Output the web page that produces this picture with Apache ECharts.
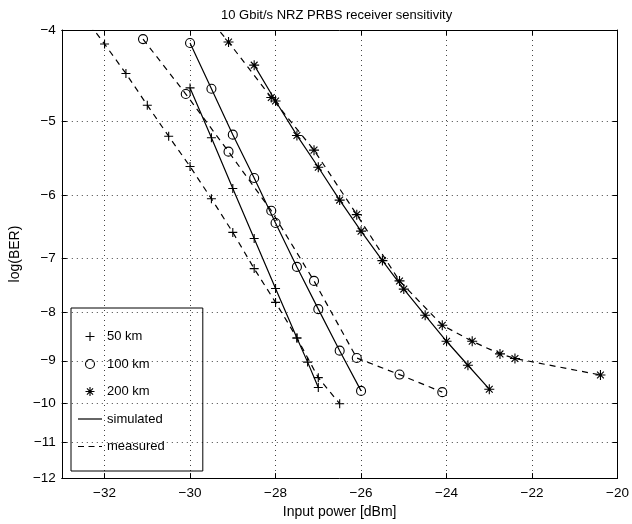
<!DOCTYPE html>
<html>
<head>
<meta charset="utf-8">
<script src="https://cdn.jsdelivr.net/npm/echarts@6/dist/echarts.min.js"></script>
<style>html,body{margin:0;padding:0;background:#fff}#c{width:632px;height:524px}</style>
</head>
<body>
<div id="c"></div>
<script>
// ---- data (input power in dBm, log10(BER)) ----
var sim50P  = [-30, -29.5, -29, -28.5, -28, -27.5, -27.25, -27];
var sim50L  = [-4.61, -5.21, -5.90, -6.67, -7.54, -8.51, -9.03, -9.61];
var meas50P = [-32.5, -32, -31.5, -31, -30.5, -30, -29.5, -29, -28.5, -28, -27.5, -27, -26.5];
var meas50L = [-3.86, -4.14, -4.45, -4.81, -5.19, -5.59, -6.05, -6.57, -7.18, -7.80, -8.51, -9.38, -10.0];

var sim100P  = [-30, -29.5, -29, -28.5, -28, -27.5, -27, -26.5, -26];
var sim100L  = [-4.13, -4.62, -5.17, -5.75, -6.42, -7.15, -7.93, -8.78, -9.69];
var meas100P = [-31.1, -30.1, -29.1, -28.1, -27.1, -26.1, -25.1, -24.1];
var meas100L = [-4.09, -4.68, -5.39, -6.23, -7.40, -8.94, -9.31, -9.72];

var sim200P  = [-28.5, -28, -27.5, -27, -26.5, -26, -25.5, -25, -24.5, -24, -23.5, -23];
var sim200L  = [-4.36, -4.76, -5.18, -5.60, -6.07, -6.55, -7.04, -7.55, -8.05, -8.58, -9.10, -9.65];
var meas200P = [-30.1, -29.1, -28.1, -27.1, -26.1, -25.1, -24.1, -23.4, -22.75, -22.4, -20.4];
var meas200L = [-3.62, -4.12, -4.72, -5.37, -6.29, -7.40, -8.25, -8.58, -8.85, -8.95, -9.32];

var xTicks = [-32, -30, -28, -26, -24, -22, -20];
var yTicks = [-4, -5, -6, -7, -8, -9, -10, -11, -12];
var xRange = [-33, -20];

var titleText = '10 Gbit/s NRZ PRBS receiver sensitivity';
var xName = 'Input power [dBm]';
var yName = 'log(BER)';
var legendNames = ['50 km', '100 km', '200 km', 'simulated', 'measured'];

// ---- scale helpers: y axis is logarithmic in -log(BER) ----
function ty(L) { return -Math.log10(-L); }
function pairs(P, L) { return P.map(function (p, i) { return [p, ty(L[i])]; }); }
function minus(n) { return n < 0 ? '\u2212' + Math.abs(n) : String(n); }

var FONT = 'Liberation Sans, Arial, Helvetica, sans-serif';
var plusSym = 'path://M5,0L5,10M0,5L10,5';
var starSym = 'path://M5,0L5,10M0,5L10,5M1.6,1.6L8.4,8.4M8.4,1.6L1.6,8.4';
var solidIcon = 'path://M0,0H24V1.2H0Z';
var dashIcon = 'path://M0,0H6V1.2H0Z M10.5,0H16.5V1.2H10.5Z M21,0H24V1.2H21Z';
var mk = { color: 'transparent', borderColor: '#000', borderWidth: 1.1 };
var fillBlack = { color: '#000', borderWidth: 0 };

function ser(name, P, L, sym, size, dashed) {
  return {
    name: name, type: 'line', data: pairs(P, L),
    symbol: sym, symbolSize: size, showSymbol: true, clip: true,
    itemStyle: mk,
    lineStyle: { color: '#000', width: 1.2, type: dashed ? [6, 5] : 'solid' },
    emphasis: { disabled: true }, animation: false, z: 3
  };
}

var yCustom = yTicks.map(ty);
var yMin = ty(yTicks[yTicks.length - 1]);
var yMax = ty(yTicks[0]);

var axisCommonX = {
  type: 'value', min: xRange[0], max: xRange[1],
  axisLine: { show: true, lineStyle: { color: '#000', width: 1 } },
  axisTick: { show: true, inside: true, length: 5, customValues: xTicks, lineStyle: { color: '#000' } }
};
var axisCommonY = {
  type: 'value', min: yMin, max: yMax,
  axisLine: { show: true, lineStyle: { color: '#000', width: 1 } },
  axisTick: { show: true, inside: true, length: 5, customValues: yCustom, lineStyle: { color: '#000' } }
};

var option = {
  backgroundColor: '#fff',
  animation: false,
  title: {
    text: titleText, left: 216, top: 4,
    textStyle: { fontFamily: FONT, fontSize: 13, fontWeight: 'normal', color: '#000' }
  },
  grid: { left: 53, right: 10, top: 30, bottom: 43, containLabel: false },
  legend: {
    orient: 'vertical', left: 71, top: 308,
    padding: [22, 38, 18, 7], itemGap: 14.5, itemWidth: 24, itemHeight: 9,
    borderColor: '#000', borderWidth: 1, backgroundColor: 'transparent',
    selectedMode: false,
    textStyle: { fontFamily: FONT, fontSize: 13, color: '#000' },
    data: [
      { name: legendNames[0], icon: plusSym, itemStyle: mk },
      { name: legendNames[1], icon: 'circle', itemStyle: mk },
      { name: legendNames[2], icon: starSym, itemStyle: mk },
      { name: legendNames[3], icon: solidIcon, itemStyle: fillBlack },
      { name: legendNames[4], icon: dashIcon, itemStyle: fillBlack }
    ]
  },
  xAxis: [
    Object.assign({}, axisCommonX, {
      position: 'bottom',
      name: xName, nameLocation: 'middle', nameGap: 24,
      nameTextStyle: { fontFamily: FONT, fontSize: 14, color: '#000' },
      axisLabel: { show: true, customValues: xTicks, margin: 8, fontFamily: FONT, fontSize: 13.5, color: '#000',
        formatter: function (v) { return minus(v); } },
      splitLine: { show: true, lineStyle: { color: '#444', width: 1, type: [1, 4] } }
    }),
    Object.assign({}, axisCommonX, {
      position: 'top', axisLabel: { show: false }, splitLine: { show: false }
    })
  ],
  yAxis: [
    Object.assign({}, axisCommonY, {
      position: 'left',
      name: yName, nameLocation: 'middle', nameGap: 32, nameRotate: 90,
      nameTextStyle: { fontFamily: FONT, fontSize: 14, color: '#000' },
      axisLabel: {
        show: true, customValues: yCustom, margin: 6, fontFamily: FONT, fontSize: 13.5, color: '#000',
        formatter: function (v) { return minus(-Math.round(Math.pow(10, -v))); }
      },
      splitLine: { show: true, lineStyle: { color: '#444', width: 1, type: [1, 4] } }
    }),
    Object.assign({}, axisCommonY, {
      position: 'right', axisLabel: { show: false }, splitLine: { show: false }
    })
  ],
  series: [
    ser('50 km', sim50P, sim50L, plusSym, 9, false),
    ser('50 km', meas50P, meas50L, plusSym, 9, true),
    ser('100 km', sim100P, sim100L, 'circle', 9, false),
    ser('100 km', meas100P, meas100L, 'circle', 9, true),
    ser('200 km', sim200P, sim200L, starSym, 10, false),
    ser('200 km', meas200P, meas200L, starSym, 10, true),
    { name: 'simulated', type: 'line', data: [], symbol: 'none',
      lineStyle: { color: '#000', width: 1.2, type: 'solid' } },
    { name: 'measured', type: 'line', data: [], symbol: 'none',
      lineStyle: { color: '#000', width: 1.2, type: [6, 5] } }
  ]
};

var chart = echarts.init(document.getElementById('c'), null, { renderer: 'canvas' });
chart.setOption(option);
</script>
</body>
</html>
